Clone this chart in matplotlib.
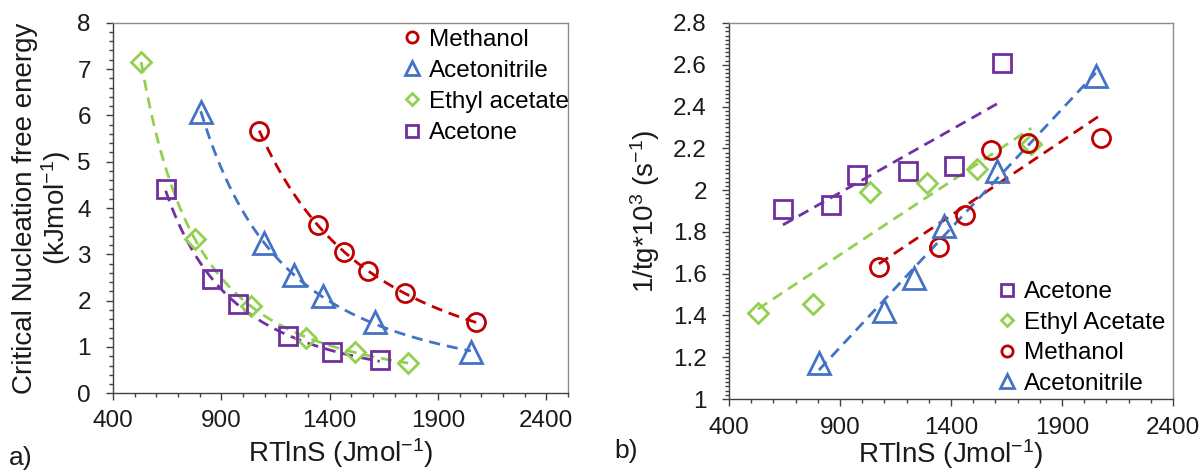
import numpy as np
import matplotlib
matplotlib.use("Agg")
import matplotlib.pyplot as plt
from matplotlib.lines import Line2D
from matplotlib.ticker import MultipleLocator, FixedLocator, FuncFormatter

plt.rcParams['font.family'] = ['Liberation Sans', 'DejaVu Sans']
plt.rcParams['mathtext.fontset'] = 'custom'
plt.rcParams['mathtext.rm'] = 'Liberation Sans'
plt.rcParams['mathtext.default'] = 'regular'

# ---- data (RTlnS, J/mol) ----
x_methanol = [1075, 1345, 1465, 1578, 1747, 2077]
x_acetonitrile = [805, 1097, 1235, 1367, 1608, 2052]
x_ethyl = [530, 778, 1037, 1293, 1515, 1762]
x_acetone = [643, 859, 975, 1206, 1413, 1631]

# panel a: critical nucleation free energy (kJ/mol)
g_methanol = [5.67, 3.64, 3.06, 2.63, 2.16, 1.53]
g_acetonitrile = [6.07, 3.24, 2.55, 2.09, 1.53, 0.90]
g_ethyl = [7.16, 3.33, 1.88, 1.19, 0.90, 0.65]
g_acetone = [4.40, 2.46, 1.93, 1.23, 0.90, 0.71]

# panel b: 1/tg * 10^3 (1/s)
r_acetone = [1.91, 1.93, 2.07, 2.09, 2.115, 2.61]
r_ethyl = [1.41, 1.455, 1.99, 2.035, 2.10, 2.22]
r_methanol = [1.63, 1.73, 1.88, 2.19, 2.225, 2.25]
r_acetonitrile = [1.17, 1.42, 1.58, 1.83, 2.09, 2.545]

x_ticks = [400, 900, 1400, 1900, 2400]
labelsA = ['Methanol', 'Acetonitrile', 'Ethyl acetate', 'Acetone']
labelsB = ['Acetone', 'Ethyl Acetate', 'Methanol', 'Acetonitrile']

C_RED = '#C00000'
C_BLUE = '#4472C4'
C_GREEN = '#92D050'
C_PURPLE = '#7030A0'
TXT = '#1a1a1a'
AX_DARK = '#404040'
AX_LIGHT = '#8c8c8c'

styles = {
    'Methanol': dict(marker='o', color=C_RED, ms=13),
    'Acetonitrile': dict(marker='^', color=C_BLUE, ms=16),
    'Ethyl acetate': dict(marker='D', color=C_GREEN, ms=10),
    'Acetone': dict(marker='s', color=C_PURPLE, ms=13),
}

fig = plt.figure(figsize=(12.02, 4.73), dpi=100)
axA = fig.add_axes([113/1202, 1-393.3/473, 455/1202, 370.6/473])
axB = fig.add_axes([729/1202, 1-399/473, 444/1202, 376/473])

FS_TICK = 17.5
FS_LAB = 20
FS_LEG = 17.5

def scatter(ax, x, y, st):
    ax.plot(x, y, linestyle='none', marker=st['marker'], ms=st['ms'],
            mfc='none', mec=st['color'], mew=2.0, zorder=3)

def power_fit(ax, x, y, color):
    x = np.asarray(x, float); y = np.asarray(y, float)
    b, lna = np.polyfit(np.log(x), np.log(y), 1)
    xx = np.linspace(x.min(), x.max(), 200)
    ax.plot(xx, np.exp(lna) * xx**b, color=color, lw=2.0, ls=(0, (4, 2.5)), zorder=2)

def lin_fit(ax, x, y, color):
    x = np.asarray(x, float); y = np.asarray(y, float)
    m, c = np.polyfit(x, y, 1)
    xx = np.array([x.min(), x.max()])
    ax.plot(xx, m*xx + c, color=color, lw=2.0, ls=(0, (4, 2.5)), zorder=2)

def legend_handles(names):
    return [Line2D([], [], ls='none', marker=styles[n]['marker'], ms=styles[n]['ms']*0.62,
                   mfc='none', mec=styles[n]['color'], mew=2.0) for n in names]

# ---- panel a ----
seriesA = [('Methanol', x_methanol, g_methanol), ('Acetonitrile', x_acetonitrile, g_acetonitrile),
           ('Ethyl acetate', x_ethyl, g_ethyl), ('Acetone', x_acetone, g_acetone)]
for name, x, y in seriesA:
    st = styles[name]
    power_fit(axA, x, y, st['color'])
    scatter(axA, x, y, st)

axA.set_xlim(400, 2500)
axA.set_ylim(0, 8)
axA.yaxis.set_major_locator(MultipleLocator(1))
axA.yaxis.set_minor_locator(MultipleLocator(0.2))
axA.set_xlabel('RTlnS (Jmol$^{-1}$)', fontsize=FS_LAB, color=TXT, labelpad=3)
axA.set_ylabel('Critical Nucleation free energy\n(kJmol$^{-1}$)', fontsize=FS_LAB, color=TXT,
               labelpad=3, linespacing=1.05)
axA.legend(legend_handles([n for n, _, _ in seriesA]), labelsA, loc='upper left',
           bbox_to_anchor=(0.635, 0.984), frameon=False, fontsize=FS_LEG, handlelength=0.8,
           handletextpad=0.3, labelspacing=0.375, borderpad=0, borderaxespad=0)

# ---- panel b ----
seriesB = [('Acetone', x_acetone, r_acetone), ('Ethyl acetate', x_ethyl, r_ethyl),
           ('Methanol', x_methanol, r_methanol), ('Acetonitrile', x_acetonitrile, r_acetonitrile)]
for name, x, y in seriesB:
    st = styles[name]
    lin_fit(axB, x, y, st['color'])
    scatter(axB, x, y, st)

axB.set_xlim(400, 2400)
axB.set_ylim(1, 2.8)
axB.yaxis.set_major_locator(MultipleLocator(0.2))
axB.yaxis.set_minor_locator(MultipleLocator(0.02))
axB.yaxis.set_major_formatter(FuncFormatter(lambda v, p: f'{v:g}'))
axB.set_xlabel('RTlnS (Jmol$^{-1}$)', fontsize=FS_LAB, color=TXT, labelpad=-1)
axB.set_ylabel('1/tg*10$^{3}$ (s$^{-1}$)', fontsize=FS_LAB, color=TXT, labelpad=8)
axB.legend(legend_handles([n for n, _, _ in seriesB]), labelsB, loc='upper left',
           bbox_to_anchor=(0.605, 0.313), frameon=False, fontsize=FS_LEG, handlelength=0.8,
           handletextpad=0.3, labelspacing=0.35, borderpad=0, borderaxespad=0)

for ax, xpad in ((axA, 7), (axB, 8)):
    ax.xaxis.set_major_locator(FixedLocator(x_ticks))
    ax.xaxis.set_minor_locator(MultipleLocator(100))
    ax.spines['left'].set_color(AX_DARK)
    ax.spines['bottom'].set_color(AX_DARK)
    ax.spines['top'].set_color(AX_LIGHT)
    ax.spines['right'].set_color(AX_LIGHT)
    for sp in ax.spines.values():
        sp.set_linewidth(1.0)
    ax.tick_params(which='both', direction='out', colors=AX_DARK, labelcolor=TXT,
                   top=False, right=False)
    ax.tick_params(which='major', length=5, width=1.0, labelsize=FS_TICK)
    ax.tick_params(which='minor', length=3, width=1.0)
    ax.tick_params(axis='y', which='major', pad=11)
    ax.tick_params(axis='x', which='major', pad=xpad)

fig.text(9/1202, 1-458/473, 'a)', fontsize=19, color=TXT, va='center', ha='left')
fig.text(614/1202, 1-451/473, 'b)', fontsize=19, color=TXT, va='center', ha='left')

fig.savefig('out.png', dpi=100)
